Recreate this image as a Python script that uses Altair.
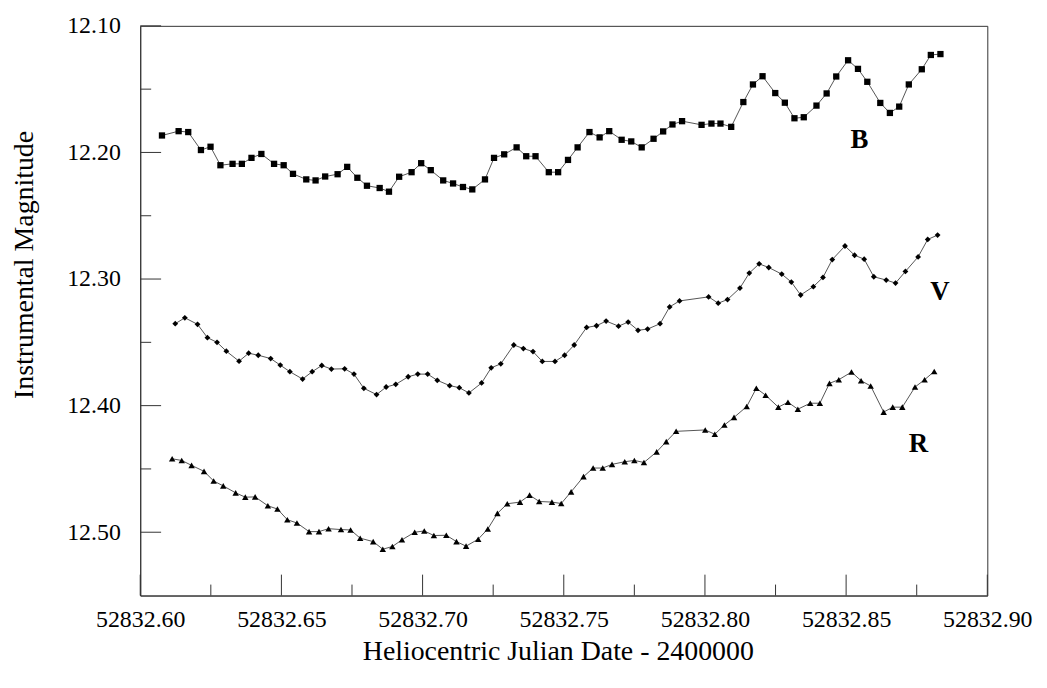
import altair as alt
import pandas as pd

# ---- data (HJD - 2400000, instrumental magnitude) ----
b_x = [52832.6077, 52832.6136, 52832.6170, 52832.6215, 52832.6249, 52832.6284, 52832.6327, 52832.6360,
       52832.6394, 52832.6429, 52832.6474, 52832.6508, 52832.6541, 52832.6588, 52832.6621, 52832.6655,
       52832.6699, 52832.6733, 52832.6769, 52832.6803, 52832.6848, 52832.6881, 52832.6917, 52832.6961,
       52832.6995, 52832.7029, 52832.7073, 52832.7108, 52832.7143, 52832.7176, 52832.7221, 52832.7253,
       52832.7289, 52832.7333, 52832.7367, 52832.7400, 52832.7447, 52832.7480, 52832.7515, 52832.7549,
       52832.7591, 52832.7627, 52832.7661, 52832.7705, 52832.7739, 52832.7776, 52832.7818, 52832.7852,
       52832.7885, 52832.7919, 52832.7988, 52832.8023, 52832.8055, 52832.8093, 52832.8136, 52832.8170,
       52832.8204, 52832.8249, 52832.8283, 52832.8317, 52832.8350, 52832.8395, 52832.8431, 52832.8465,
       52832.8507, 52832.8542, 52832.8575, 52832.8621, 52832.8655, 52832.8688, 52832.8722, 52832.8768,
       52832.8800, 52832.8834]
b_y = [12.1866, 12.1832, 12.1839, 12.1981, 12.1955, 12.2101, 12.2090, 12.2090, 12.2043, 12.2012,
       12.2090, 12.2101, 12.2169, 12.2213, 12.2221, 12.2190, 12.2172, 12.2114, 12.2200, 12.2263,
       12.2281, 12.2310, 12.2192, 12.2156, 12.2085, 12.2140, 12.2221, 12.2245, 12.2273, 12.2292,
       12.2213, 12.2043, 12.2015, 12.1960, 12.2030, 12.2030, 12.2156, 12.2156, 12.2059, 12.1960,
       12.1839, 12.1881, 12.1832, 12.1900, 12.1913, 12.1960, 12.1892, 12.1834, 12.1779, 12.1753,
       12.1782, 12.1772, 12.1772, 12.1798, 12.1602, 12.1463, 12.1398, 12.1531, 12.1607, 12.1730,
       12.1722, 12.1630, 12.1534, 12.1400, 12.1272, 12.1340, 12.1442, 12.1609, 12.1688, 12.1638,
       12.1463, 12.1343, 12.1230, 12.1223]

v_x = [52832.6124, 52832.6158, 52832.6203, 52832.6238, 52832.6272, 52832.6305, 52832.6350, 52832.6384,
       52832.6418, 52832.6462, 52832.6496, 52832.6530, 52832.6575, 52832.6609, 52832.6643, 52832.6677,
       52832.6724, 52832.6757, 52832.6792, 52832.6837, 52832.6871, 52832.6905, 52832.6949, 52832.6983,
       52832.7018, 52832.7052, 52832.7096, 52832.7130, 52832.7164, 52832.7209, 52832.7243, 52832.7277,
       52832.7323, 52832.7357, 52832.7391, 52832.7424, 52832.7469, 52832.7503, 52832.7537, 52832.7581,
       52832.7616, 52832.7650, 52832.7694, 52832.7728, 52832.7763, 52832.7797, 52832.7841, 52832.7875,
       52832.7910, 52832.8013, 52832.8047, 52832.8080, 52832.8124, 52832.8157, 52832.8192, 52832.8226,
       52832.8272, 52832.8306, 52832.8339, 52832.8384, 52832.8418, 52832.8451, 52832.8496, 52832.8530,
       52832.8564, 52832.8598, 52832.8642, 52832.8675, 52832.8710, 52832.8755, 52832.8789, 52832.8824]
v_y = [12.3353, 12.3306, 12.3358, 12.3463, 12.3500, 12.3570, 12.3649, 12.3586, 12.3602, 12.3628,
       12.3680, 12.3732, 12.3790, 12.3732, 12.3683, 12.3711, 12.3709, 12.3751, 12.3863, 12.3913,
       12.3853, 12.3832, 12.3772, 12.3751, 12.3751, 12.3800, 12.3842, 12.3858, 12.3900, 12.3821,
       12.3701, 12.3670, 12.3521, 12.3549, 12.3573, 12.3651, 12.3651, 12.3602, 12.3521, 12.3382,
       12.3369, 12.3332, 12.3372, 12.3340, 12.3405, 12.3395, 12.3353, 12.3220, 12.3173, 12.3141,
       12.3191, 12.3162, 12.3071, 12.2953, 12.2880, 12.2909, 12.2961, 12.3024, 12.3126, 12.3060,
       12.2987, 12.2846, 12.2739, 12.2812, 12.2843, 12.2982, 12.3008, 12.3032, 12.2940, 12.2825,
       12.2687, 12.2653]

r_x = [52832.6113, 52832.6147, 52832.6182, 52832.6226, 52832.6260, 52832.6294, 52832.6338, 52832.6372,
       52832.6407, 52832.6452, 52832.6486, 52832.6521, 52832.6555, 52832.6598, 52832.6633, 52832.6667,
       52832.6711, 52832.6745, 52832.6779, 52832.6825, 52832.6859, 52832.6893, 52832.6927, 52832.6972,
       52832.7006, 52832.7040, 52832.7084, 52832.7120, 52832.7154, 52832.7197, 52832.7231, 52832.7265,
       52832.7300, 52832.7345, 52832.7379, 52832.7413, 52832.7458, 52832.7491, 52832.7526, 52832.7570,
       52832.7604, 52832.7638, 52832.7671, 52832.7716, 52832.7750, 52832.7784, 52832.7829, 52832.7863,
       52832.7898, 52832.8001, 52832.8035, 52832.8069, 52832.8103, 52832.8148, 52832.8182, 52832.8215,
       52832.8260, 52832.8294, 52832.8329, 52832.8373, 52832.8407, 52832.8441, 52832.8474, 52832.8519,
       52832.8553, 52832.8587, 52832.8633, 52832.8665, 52832.8699, 52832.8744, 52832.8778, 52832.8812]
r_y = [12.4420, 12.4433, 12.4472, 12.4519, 12.4595, 12.4634, 12.4689, 12.4723, 12.4721, 12.4791,
       12.4817, 12.4901, 12.4927, 12.4995, 12.4995, 12.4972, 12.4979, 12.4982, 12.5047, 12.5074,
       12.5134, 12.5113, 12.5060, 12.5000, 12.4990, 12.5026, 12.5024, 12.5074, 12.5110, 12.5055,
       12.4974, 12.4851, 12.4775, 12.4762, 12.4707, 12.4757, 12.4762, 12.4773, 12.4681, 12.4561,
       12.4493, 12.4493, 12.4464, 12.4443, 12.4433, 12.4449, 12.4365, 12.4284, 12.4203, 12.4192,
       12.4226, 12.4153, 12.4093, 12.4007, 12.3863, 12.3918, 12.4012, 12.3973, 12.4028, 12.3981,
       12.3981, 12.3824, 12.3795, 12.3735, 12.3803, 12.3845, 12.4051, 12.4012, 12.4012, 12.3853,
       12.3795, 12.3730]

band_labels = ["B", "V", "R"]
label_x = [52832.8547, 52832.8832, 52832.8756]
label_y = [12.190, 12.310, 12.430]

x_major = [52832.60, 52832.65, 52832.70, 52832.75, 52832.80, 52832.85, 52832.90]
x_minor = [52832.625, 52832.675, 52832.725, 52832.775, 52832.825, 52832.875]
y_major = [12.10, 12.20, 12.30, 12.40, 12.50]
y_minor = [12.15, 12.25, 12.35, 12.45]

FONT = "Liberation Serif"
W, H = 852, 573

series = {"B": (b_x, b_y), "V": (v_x, v_y), "R": (r_x, r_y)}
rows = []
for band, (xs, ys) in series.items():
    rows += [{"hjd": x, "mag": y, "band": band} for x, y in zip(xs, ys)]
df = pd.DataFrame(rows)

xscale = alt.Scale(domain=[52832.60, 52832.90], nice=False, zero=False)
yscale = alt.Scale(domain=[12.10, 12.55], reverse=True, nice=False, zero=False)

x_axis = alt.Axis(title="Heliocentric Julian Date - 2400000", values=x_major, format=".2f",
                  ticks=False, grid=False, labelPadding=12, labelFlush=False,
                  labelFont=FONT, labelFontSize=24, titleFont=FONT, titleFontSize=28,
                  titleX=420, titleY=56, titleBaseline="middle")
y_axis = alt.Axis(title="Instrumental Magnitude", values=y_major, format=".2f",
                  ticks=False, grid=False, labelPadding=20,
                  labelFont=FONT, labelFontSize=24, titleFont=FONT, titleFontSize=28,
                  titleX=-116, titleY=240, titleBaseline="middle", titleAngle=-90)

lines = alt.Chart(df).mark_line(color="#555555", strokeWidth=1).encode(
    x=alt.X("hjd:Q", scale=xscale, axis=x_axis),
    y=alt.Y("mag:Q", scale=yscale, axis=y_axis),
    detail="band:N",
)

shapes = {"B": ("square", 40), "V": ("diamond", 34), "R": ("triangle-up", 42)}
point_layers = []
for band, (shape, size) in shapes.items():
    point_layers.append(
        alt.Chart(df[df.band == band]).mark_point(
            shape=shape, size=size, filled=True, color="black", opacity=1
        ).encode(x="hjd:Q", y="mag:Q")
    )

ytick_major = alt.Chart(pd.DataFrame({"mag": y_major})).mark_rule(color="#333333").encode(
    y="mag:Q", x=alt.value(0), x2=alt.value(21))
ytick_minor = alt.Chart(pd.DataFrame({"mag": y_minor})).mark_rule(color="#333333").encode(
    y="mag:Q", x=alt.value(0), x2=alt.value(11))
xtick_major = alt.Chart(pd.DataFrame({"hjd": x_major})).mark_rule(color="#333333").encode(
    x="hjd:Q", y=alt.value(H), y2=alt.value(H - 21))
xtick_minor = alt.Chart(pd.DataFrame({"hjd": x_minor})).mark_rule(color="#333333").encode(
    x="hjd:Q", y=alt.value(H), y2=alt.value(H - 11))

labels = alt.Chart(pd.DataFrame({"hjd": label_x, "mag": label_y, "txt": band_labels})).mark_text(
    font=FONT, fontSize=27, fontWeight="bold", color="black", align="center", baseline="middle"
).encode(x="hjd:Q", y="mag:Q", text="txt:N")

chart = alt.layer(
    lines, *point_layers, ytick_major, ytick_minor, xtick_major, xtick_minor, labels
).properties(
    width=W, height=H,
    autosize=alt.AutoSizeParams(type="none"),
    padding={"left": 133, "top": 16, "right": 52, "bottom": 80},
    background="white",
).configure(
    font=FONT
).configure_view(
    stroke="#333333", strokeWidth=1
).configure_axis(
    labelFont=FONT, labelFontSize=24, labelColor="black",
    titleFont=FONT, titleFontSize=28, titleFontWeight="normal", titleColor="black",
    domainColor="#333333", domainWidth=1,
)

chart.save("out.html", embed_options={"renderer": "svg", "actions": False})
